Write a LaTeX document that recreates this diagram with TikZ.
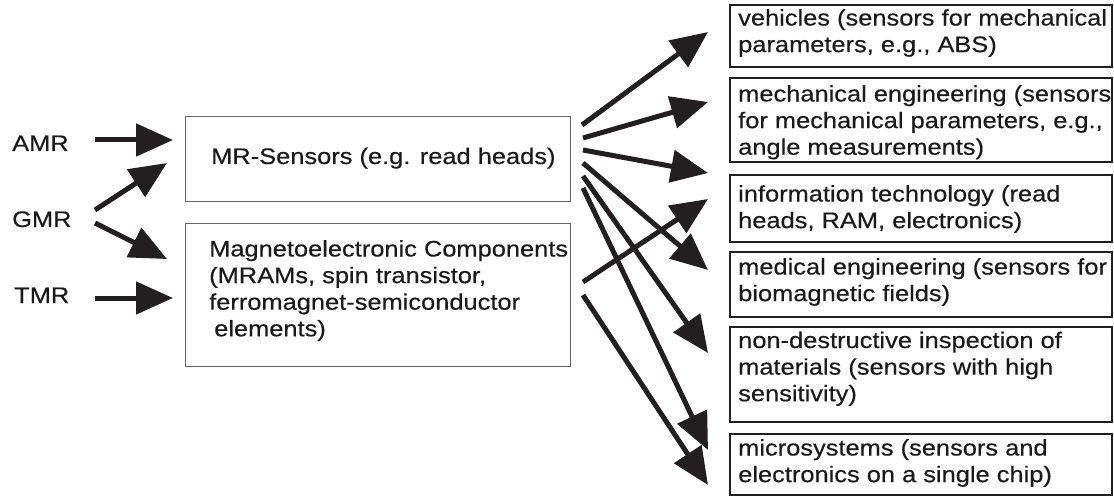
\documentclass[tikz,border=0pt]{standalone}
\usepackage{fontspec}
\setmainfont{Liberation Sans}[FakeStretch=1.13,FakeBold=0.4]
\usetikzlibrary{arrows.meta}
\definecolor{ink}{HTML}{231F20}
\definecolor{txt}{HTML}{1A1A1A}
\begin{document}
\begin{tikzpicture}[x=1pt,y=-1pt,
  lbox/.style={draw=black!60, line width=1pt, minimum width=385pt, inner sep=0pt},
  rbox/.style={draw=ink, line width=2.4pt, minimum width=382pt, inner sep=0pt},
  lbl/.style={anchor=base west, inner sep=0pt, text=txt, font=\fontsize{22.5}{26.6}\selectfont},
  mtext/.style={anchor=north west, inner sep=0pt, align=left, text=txt,
    font=\fontsize{22.5}{26.6}\selectfont, execute at begin node={\rule{0pt}{19pt}}},
  arr/.style={draw=ink, line width=5pt, -{Triangle[length=37pt,width=32pt]}}]
\useasboundingbox (0,0) rectangle (1114,497);

% left labels
\node[lbl] (amr) at (12,151) {AMR};
\node[lbl] (gmr) at (12,227) {GMR};
\node[lbl] (tmr) at (14,303) {TMR};

% middle boxes
\node[lbox, minimum height=85pt] (mr) at (377.5,159.5) {};
\node[lbl] (mrt) at (211,164) {MR-Sensors (e.g. read heads)};
\node[lbox, minimum height=142pt] (me) at (377.5,295) {};
\node[mtext] (met) at (209,240) {Magnetoelectronic Components\\(MRAMs, spin transistor,\\ferromagnet-semiconductor\\\hspace*{5pt}elements)};

% right boxes
\node[rbox, minimum height=62pt] (b1) at (921,36) {};
\node[mtext] (t1) at (738,9) {vehicles (sensors for mechanical\\parameters, e.g., ABS)};
\node[rbox, minimum height=84pt] (b2) at (921,120) {};
\node[mtext] (t2) at (738,85) {mechanical engineering (sensors\\for mechanical parameters, e.g.,\\angle measurements)};
\node[rbox, minimum height=67pt] (b3) at (921,208.5) {};
\node[mtext] (t3) at (738,185) {information technology (read\\heads, RAM, electronics)};
\node[rbox, minimum height=65pt] (b4) at (921,284.5) {};
\node[mtext] (t4) at (738,258) {medical engineering (sensors for\\biomagnetic fields)};
\node[rbox, minimum height=95pt] (b5) at (921,374.5) {};
\node[mtext] (t5) at (738,331.5) {non-destructive inspection of\\materials (sensors with high\\sensitivity)};
\node[rbox, minimum height=61pt] (b6) at (921,464.5) {};
\node[mtext] (t6) at (738,439) {microsystems (sensors and\\electronics on a single chip)};

% arrow end points
\coordinate (la1) at (95,140);  \coordinate (lt1) at (173,140);
\coordinate (la2) at (95,210);  \coordinate (lt2) at (167,163);
\coordinate (la3) at (95,223);  \coordinate (lt3) at (167,259);
\coordinate (la4) at (95,298);  \coordinate (lt4) at (173,298);

\coordinate (s1) at (582,125); \coordinate (e1) at (708,32);
\coordinate (s2) at (583,138); \coordinate (e2) at (708,102);
\coordinate (s3) at (583,150); \coordinate (e3) at (708,173);
\coordinate (s4) at (583,163); \coordinate (e4) at (708,270);
\coordinate (s5) at (583,176); \coordinate (e5) at (708,353);
\coordinate (s6) at (583,188); \coordinate (e6) at (708,450);
\coordinate (m1) at (583,282); \coordinate (f1) at (708,199);
\coordinate (m2) at (583,295); \coordinate (f2) at (708,485);

\draw[arr] (la1) -- (lt1);
\draw[arr] (la2) -- (lt2);
\draw[arr] (la3) -- (lt3);
\draw[arr] (la4) -- (lt4);

\draw[arr] (s1) -- (e1);
\draw[arr] (s2) -- (e2);
\draw[arr] (s3) -- (e3);
\draw[arr] (s4) -- (e4);
\draw[arr] (s5) -- (e5);
\draw[arr] (s6) -- (e6);
\draw[arr] (m1) -- (f1);
\draw[arr] (m2) -- (f2);
\end{tikzpicture}
\end{document}
